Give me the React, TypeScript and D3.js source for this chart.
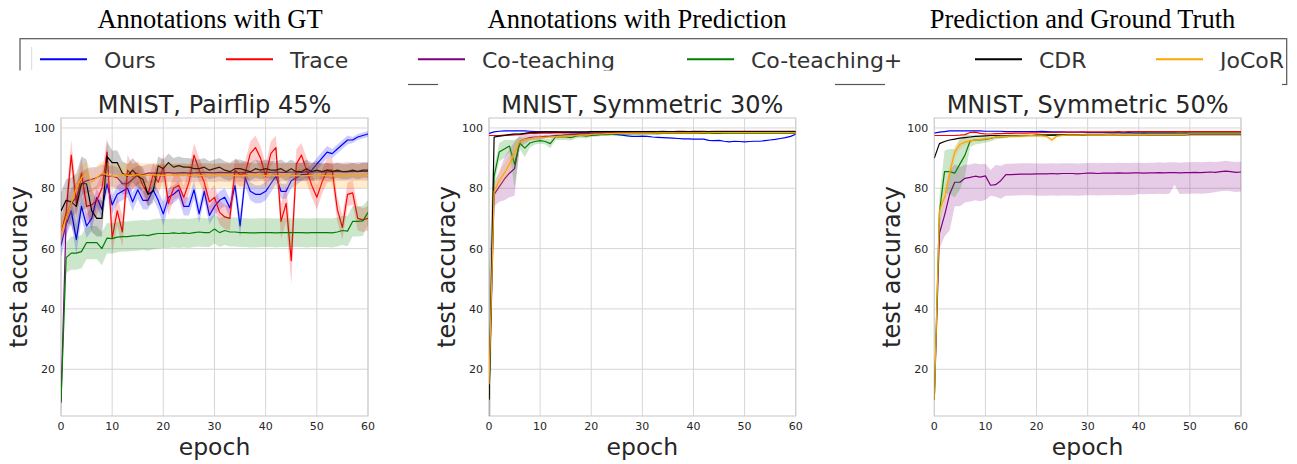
import React from "react";
import * as d3 from "d3";

// ---------- categories / labels ----------
const seriesNames = ["Ours", "Trace", "Co-teaching", "Co-teaching+", "CDR", "JoCoR"];
const seriesColors = ["#0000ff", "#ff0000", "#800080", "#008000", "#000000", "#ffa500"];
const groupTitles = ["Annotations with GT", "Annotations with Prediction", "Prediction and Ground Truth"];
const panelTitles = ["MNIST, Pairflip 45%", "MNIST, Symmetric 30%", "MNIST, Symmetric 50%"];
const xTicks = [0, 10, 20, 30, 40, 50, 60];
const yTicks = [20, 40, 60, 80, 100];
const xLabel = "epoch";
const yLabel = "test accuracy";

// ---------- Panel 1: Pairflip 45% ----------
const p1Ours = [61,68,72.5,63,74,67.5,70,77,73,81.5, 74.5,78,79,80,75.5,79.5,76,76,79.5,76, 71.5,77,78,79.5,74,74,79.5,71.5,79,71, 74,76,77,73.5,81,67.5,83.5,79,78,78, 79,81.5,84,79,79,82.5,83.5,84.5,84.5,86, 88,90,92,91.5,93,94.5,96,96,97,97.5, 98];
const p1OursSd = [4,4,4,5,4,4,4,3,3,3, 3,3,3,3,3,3,3,3,3,3, 4,3,3,3,3,3,3,3,3,3, 3,3,3,3,3,4,3,3,3,3, 3,3,2.5,2.5,2.5,2.5,2.5,2,2,2, 2,2,2,1.5,1.5,1.5,1.5,1,1,1, 1];
const p1Trace = [65,72,91,75,85,74,74.5,76,80,92, 63.5,72.5,65.5,86,84,85,81,78,84.5,82, 87,75,80,81,77,82,91,86,82,75.5, 77,72,70.5,70,86,84.5,85,91.5,93.5,90, 84,91.5,93.5,69,75,56,88,91,86,81, 77,82,86,86,73,67,78,78.5,70,69.5, 70];
const p1TraceSd = [4,5,5,5,5,5,5,5,5,5, 5,5,5,5,4,4,4,4,4,4, 4,4,4,4,4,4,4,4,4,4, 4,4,4,4,4,4,4,4,4,4, 4,4,4,6,6,8,5,4,4,4, 4,4,4,4,4,4,4,4,4,4, 4];
const p1Cot = [9,70,75,77,81.5,82.5,83,83.5,84.5,84, 84,83.5,81.5,81.5,83,84.5,84.5,85,85,85, 85,85.2,85,85.1,85.2,85,85.1,85.2,85.3,85.2, 85.1,85.3,85.2,85.2,85.3,85.2,85.3,85.3,85.2,85.4, 85.3,85.3,85.4,85.3,85.3,85.4,85.4,85.3,85.5,85.4, 85.4,85.5,85.4,85.5,85.5,85.5,85.6,85.5,85.6,85.6, 85.6];
const p1CotSd = [4,5,5,5,4,4,4,3.5,3.5,3.5, 3.5,3.5,3.5,3.5,3.5,3,3,3,3,3, 3,3,3,3,3,3,3,3,3,3, 3,3,3,3,3,3,3,3,3,3, 3,3,3,3,3,3,3,3,3,3, 3,3,3,3,3,3,3,3,3,3, 3];
const p1CotP = [9,57,58.5,58.5,59,62,62,62,60,63.5, 63.3,63.8,64,64,64.2,64.3,64.5,64.3,64.7,65, 65,65,65.2,65,65.2,65,65.3,65.5,65.3,65.3, 66.5,65.3,66,65.5,65.5,65.3,65.3,65.2,65.2,65.3, 65.3,65.3,65.2,65.3,65.3,65.3,65.3,65.3,65.2,65.3, 65.3,65.3,65.3,65.2,65.5,66,65.8,69,69,69.2, 72];
const p1CotPSd = [2,5,5.5,5.5,5.5,5.5,5.5,5.5,5.5,5, 5,5,5,5,5,5,5,5,5,5, 4.8,4.8,4.8,4.8,4.8,4.8,4.8,4.8,4.8,4.8, 4.8,4.8,4.8,4.8,4.8,4.8,4.8,4.8,4.8,4.8, 4.8,4.8,4.8,4.8,4.8,4.8,4.8,4.8,4.8,4.8, 4.8,4.8,4.8,4.8,4.8,4.8,5,5,5,5, 4];
const p1Cdr = [72.5,76,75.5,74,81.5,81.5,72.5,70,70,90.5, 88.5,88.5,85,84,86,84,83,78,79,87.5, 86.5,88.5,87,87.5,87,87,86.5,86.5,87,86, 86.5,87,86,85.5,86.5,86.5,86,85.5,86.5,86, 86.5,86,86,86.5,85.5,86.5,85.5,85.5,86.5,85.5, 86,85.5,86,85.5,86,85.5,85.5,86,85.5,86, 86];
const p1CdrSd = [6,7,8,11,9,8,7,6,6,5, 4,4,4,4,4,4,4,4,4,3, 3,3,3,3,3,3,3,3,3,3, 3,3,3,3,3,3,3,3,3,3, 3,3,3,3,3,3,3,3,3,3, 3,2.5,2.5,2.5,2.5,2.5,2.5,2.5,2.5,2.5, 2.5];
const p1Jocor = [65,70,75,80,83.5,85,82,83.5,85,84.5, 84,84,84.5,84.3,84.3,84.5,84.3,84.3,84.5,84.3, 84.3,84.4,84.3,84.2,84.3,84.4,84.3,84.3,84.2,84.3, 84.3,84.2,84.3,84.3,84.2,84.3,84.2,84.2,84.3,84.2, 84.2,84.3,84.2,84.2,84.1,84.2,84.2,84.1,84.2,84.2, 84.1,84.2,84.2,84.1,84.2,84.1,84.2,84.2,84.1,84.2, 84.2];
const p1JocorSd = [5,4,4,4,4,4,4,4,4,4, 4,4,4,4,4,4,4,4,4,4, 4,4,4,4,4,4,4,4,4,4, 4,4,4,4,4,4,4,4,4,4, 4,4,4,4,4,4,4,4,4,4, 4,4,4,4,4,4,4,4,4,4, 4];

// ---------- Panel 2: Symmetric 30% ----------
const p2Ours = [98.2,98.7,98.9,99,99,99,99,99,98.9,98.8, 98.7,98.7,98.6,98.6,98.5,98.5,98.4,98.4,98.3,98.3, 98.2,98.1,98,98,97.9,97.8,97.6,97.4,97.2,97.2, 97.3,97.2,97,96.9,96.8,96.7,96.6,96.5,96.4,96.4, 96.3,96.3,96.3,95.9,95.8,95.9,95.6,95.4,95.6,95.5, 95.4,95.5,95.6,95.6,95.8,96,96.2,96.5,96.8,97.2, 97.9];
const p2Trace = [97.5,97.5,97.5,97.6,97.6,97.7,97.8,98,98.2,98.2, 98.3,98.3,98.3,98.4,98.4,98.4,98.5,98.5,98.5,98.5, 98.6,98.6,98.6,98.6,98.7,98.7,98.7,98.7,98.7,98.8, 98.8,98.8,98.8,98.8,98.9,98.8,98.8,98.9,98.9,98.8, 98.9,98.9,98.9,98.8,98.9,98.9,98.9,98.9,98.9,98.9, 98.9,98.9,98.9,98.9,98.9,98.9,98.9,98.9,98.9,98.9, 98.9];
const p2Cot = [10,78,80.5,83,85,86.5,95.5,96.3,96.8,97, 97,97.2,97.3,97.5,97.5,97.7,97.8,97.9,98,98, 98.1,98.2,98.2,98.2,98.3,98.3,98.3,98.3,98.4,98.4, 98.4,98.4,98.4,98.4,98.4,98.4,98.4,98.5,98.4,98.4, 98.5,98.4,98.5,98.5,98.4,98.5,98.5,98.5,98.5,98.5, 98.5,98.5,98.5,98.5,98.5,98.5,98.5,98.5,98.5,98.5, 98.5];
const p2CotSd = [0,4,5,7,8,9,2,1.5,1,1, 0.8,0.5,0.5,0.5,0.5,0.5,0.5,0.5,0.5,0.5, 0.3,0.3,0.3,0.3,0.3,0.3,0.3,0.3,0.3,0.3, 0.3,0.3,0.3,0.3,0.3,0.3,0.3,0.3,0.3,0.3, 0.3,0.3,0.3,0.3,0.3,0.3,0.3,0.3,0.3,0.3, 0.3,0.3,0.3,0.3,0.3,0.3,0.3,0.3,0.3,0.3, 0.3];
const p2CotP = [10,84,92,93,94,88,95,93.3,95,95.5, 95.8,95.5,94.8,97,97,97,96.8,97.3,97.5,97.3, 97.5,97.6,97.8,97.8,97.9,98,98,98,98.1,98.1, 98.1,98.1,98.2,98.1,98.2,98.2,98.2,98.2,98.2,98.2, 98.2,98.2,98.2,98.3,98.2,98.2,98.3,98.3,98.3,98.3, 98.3,98.3,98.3,98.3,98.3,98.3,98.3,98.3,98.3,98.3, 98.3];
const p2CotPSd = [0,3,3,3,2,8,2,3,1.5,1, 1,1,1.5,1,1,1,1,0.8,0.8,0.8, 0.5,0.5,0.5,0.5,0.5,0.5,0.5,0.5,0.5,0.5, 0.3,0.3,0.3,0.3,0.3,0.3,0.3,0.3,0.3,0.3, 0.3,0.3,0.3,0.3,0.3,0.3,0.3,0.3,0.3,0.3, 0.3,0.3,0.3,0.3,0.3,0.3,0.3,0.3,0.3,0.3, 0.3];
const p2Cdr = [10,97,97.3,97.5,97.8,98,98,98.2,98.5,98.5, 98.6,98.7,98.7,98.7,98.7,98.7,98.7,98.7,98.7,98.7, 98.8,98.8,98.8,98.8,98.8,98.8,98.8,98.8,98.8,98.8, 98.8,98.8,98.8,98.8,98.8,98.8,98.8,98.8,98.8,98.8, 98.8,98.8,98.8,98.8,98.8,98.8,98.8,98.8,98.8,98.8, 98.8,98.8,98.8,98.8,98.8,98.8,98.8,98.8,98.8,98.8, 98.8];
const p2CdrSd = [42,0.3,0.3,0.3,0.3,0.3,0.3,0.3,0.3,0.3, 0.3,0.3,0.3,0.3,0.3,0.3,0.3,0.3,0.3,0.3, 0.3,0.3,0.3,0.3,0.3,0.3,0.3,0.3,0.3,0.3, 0.3,0.3,0.3,0.3,0.3,0.3,0.3,0.3,0.3,0.3, 0.3,0.3,0.3,0.3,0.3,0.3,0.3,0.3,0.3,0.3, 0.3,0.3,0.3,0.3,0.3,0.3,0.3,0.3,0.3,0.3, 0.3];
const p2Jocor = [15,79,82.5,85,88,92,95.5,96.2,96.5,96.7, 96.8,96.9,97,97.1,97.2,97.3,97.4,97.5,97.6,97.7, 97.9,98,98,98.1,98.1,98.2,98.2,98.2,98.3,98.3, 98.3,98.3,98.3,98.4,98.4,98.4,98.4,98.4,98.4,98.4, 98.4,98.4,98.5,98.4,98.5,98.5,98.5,98.5,98.5,98.5, 98.5,98.5,98.5,98.5,98.5,98.5,98.5,98.5,98.5,98.5, 98.5];
const p2JocorSd = [5,2,3,3,3,3,1,1,0.5,0.5, 0.5,0.5,0.5,0.5,0.5,0.5,0.5,0.5,0.5,0.5, 0.3,0.3,0.3,0.3,0.3,0.3,0.3,0.3,0.3,0.3, 0.3,0.3,0.3,0.3,0.3,0.3,0.3,0.3,0.3,0.3, 0.3,0.3,0.3,0.3,0.3,0.3,0.3,0.3,0.3,0.3, 0.3,0.3,0.3,0.3,0.3,0.3,0.3,0.3,0.3,0.3, 0.3];

// ---------- Panel 3: Symmetric 50% ----------
const p3Ours = [98.3,98.6,98.8,99,99,99,99,99,99,99, 98.9,98.9,98.9,98.9,98.8,98.8,98.8,98.8,98.8,98.8, 98.8,98.9,98.8,98.7,98.7,98.7,98.6,98.6,98.6,98.6, 98.5,98.5,98.5,98.5,98.5,98.5,98.5,98.4,98.5,98.4, 98.4,98.4,98.4,98.4,98.4,98.4,98.4,98.4,98.3,98.4, 98.3,98.3,98.3,98.3,98.3,98.3,98.3,98.3,98.3,98.3, 98.3];
const p3Trace = [97.5,97.5,97.5,97.5,97.5,97.6,97.8,98.5,98.6,98.2, 98,98,98.1,98.1,98.2,98.2,98.3,98.3,98.3,98.4, 98.4,98.5,98.5,98.5,98.5,98.6,98.6,98.6,98.6,98.7, 98.7,98.7,98.7,98.7,98.7,98.7,98.8,98.7,98.8,98.8, 98.8,98.8,98.8,98.8,98.8,98.8,98.8,98.8,98.8,98.8, 98.8,98.8,98.8,98.8,98.8,98.8,98.8,98.8,98.8,98.8, 98.8];
const p3Cot = [10,65,71,78,82,82,83.3,83.6,84,83.7, 84.1,81,81.2,82.5,84.5,84.5,84.6,84.7,84.7,84.7, 84.8,84.8,84.8,84.9,84.8,84.9,84.9,84.9,84.8,84.9, 85,85,84.9,85,85,85,85.1,85,85,85.1, 85.1,85,85.1,85.1,85.2,85.1,85.2,85.2,85.1,85.2, 85.2,85.3,85.2,85.3,85.4,85.3,85.5,85.7,85.5,85.3, 85.4];
const p3CotDn = [0,5,7,12,8,8,8,8,8,8, 8,3.5,4,6,7,7,7,7,7,7, 7.3,7.3,7.3,7.3,7.3,7.3,7.3,7.3,7.3,7.3, 7.3,7.3,7.3,7.3,7.3,7.3,7.3,7.3,7.3,7.3, 7,7,7,7,7,7,7,4,7,7, 7,7,7,7,7,6.5,6.5,6.5,6.5,6.5, 6.5];
const p3CotUp = [0,4,6,8,6,5,4.5,4.3,4.3,4.3, 4,5,6.5,5,3.6,3.6,3.6,3.6,3.6,3.6, 3.4,3.4,3.4,3.4,3.4,3.4,3.4,3.4,3.4,3.4, 3.4,3.4,3.4,3.4,3.4,3.4,3.4,3.4,3.4,3.4, 3.4,3.4,3.4,3.4,3.4,3.4,3.4,3.4,3.4,3.4, 3.4,3.4,3.4,3.4,3.4,3.4,3.4,3.4,3.4,3.4, 3.4];
const p3CotP = [10,72,85.5,85.5,85,88,91,95.7,96,96, 96.2,96.5,97,97,97.1,97.3,97.3,97.4,97.5,97.5, 97.5,97.6,97.6,97.7,97.7,97.7,97.8,97.8,97.8,97.8, 97.9,97.9,97.9,97.9,98,98,98,98,98,98, 98,98.1,98.1,98.1,98.1,98.1,98.1,98.1,98.2,98.1, 98.2,98.2,98.2,98.2,98.2,98.2,98.2,98.2,98.2,98.2, 98.2];
const p3CotPSd = [0,5,7,7.5,8,8.5,7,2,1.5,1.2, 1,1,0.8,0.5,0.5,0.5,0.5,0.5,0.5,0.5, 0.3,0.3,0.3,0.3,0.3,0.3,0.3,0.3,0.3,0.3, 0.3,0.3,0.3,0.3,0.3,0.3,0.3,0.3,0.3,0.3, 0.3,0.3,0.3,0.3,0.3,0.3,0.3,0.3,0.3,0.3, 0.3,0.3,0.3,0.3,0.3,0.3,0.3,0.3,0.3,0.3, 0.3];
const p3Cdr = [90,94.8,95.5,96,96.3,96.6,96.8,97,97.2,97.3, 97.4,97.5,97.5,97.5,97.5,97.5,97.5,97.5,97.5,97.5, 97.6,97.6,97.6,97.6,97.6,97.6,97.6,97.6,97.6,97.6, 97.7,97.7,97.7,97.7,97.7,97.7,97.7,97.7,97.7,97.7, 97.7,97.7,97.7,97.7,97.7,97.7,97.7,97.7,97.7,97.7, 97.8,97.8,97.8,97.8,97.8,97.8,97.8,97.8,97.8,97.8, 97.8];
const p3Jocor = [10,72.5,77,85,92,94.5,95.3,95.7,96,96.2, 96.4,96.6,97,97.2,97.2,97.3,97.3,97.4,97.4,97.5, 97.4,97.4,97.2,96,97.3,97.5,97.6,97.6,97.6,97.7, 97.7,97.7,97.7,97.7,97.8,97.7,97.8,97.8,97.8,97.8, 97.8,97.8,97.9,97.9,97.9,97.9,97.9,97.9,97.9,97.9, 98,98,98,98,98,98,98,98,98,98, 98];
const p3JocorSd = [0,3,3,3,2,1.5,1,0.8,0.5,0.5, 0.5,0.5,0.5,0.5,0.5,0.5,0.5,0.5,0.5,0.5, 0.5,0.5,0.5,0.8,0.5,0.3,0.3,0.3,0.3,0.3, 0.3,0.3,0.3,0.3,0.3,0.3,0.3,0.3,0.3,0.3, 0.3,0.3,0.3,0.3,0.3,0.3,0.3,0.3,0.3,0.3, 0.3,0.3,0.3,0.3,0.3,0.3,0.3,0.3,0.3,0.3, 0.3];

type Series = { mean: number[]; dn: number[] | null; up: number[] | null };

const panelSeries: Series[][] = [
  [
    { mean: p1Ours, dn: p1OursSd, up: p1OursSd },
    { mean: p1Trace, dn: p1TraceSd, up: p1TraceSd },
    { mean: p1Cot, dn: p1CotSd, up: p1CotSd },
    { mean: p1CotP, dn: p1CotPSd, up: p1CotPSd },
    { mean: p1Cdr, dn: p1CdrSd, up: p1CdrSd },
    { mean: p1Jocor, dn: p1JocorSd, up: p1JocorSd },
  ],
  [
    { mean: p2Ours, dn: null, up: null },
    { mean: p2Trace, dn: null, up: null },
    { mean: p2Cot, dn: p2CotSd, up: p2CotSd },
    { mean: p2CotP, dn: p2CotPSd, up: p2CotPSd },
    { mean: p2Cdr, dn: p2CdrSd, up: p2CdrSd },
    { mean: p2Jocor, dn: p2JocorSd, up: p2JocorSd },
  ],
  [
    { mean: p3Ours, dn: null, up: null },
    { mean: p3Trace, dn: null, up: null },
    { mean: p3Cot, dn: p3CotDn, up: p3CotUp },
    { mean: p3CotP, dn: p3CotPSd, up: p3CotPSd },
    { mean: p3Cdr, dn: null, up: null },
    { mean: p3Jocor, dn: p3JocorSd, up: p3JocorSd },
  ],
];

// ---------- layout ----------
const W = 1297;
const H = 464;
const FONT = "'DejaVu Sans', Verdana, sans-serif";
const SERIF = "'Liberation Serif', 'Times New Roman', serif";
const panelX = [
  { x0: 61, x1: 368 },
  { x0: 489, x1: 795.7 },
  { x0: 934.3, x1: 1241 },
];
const groupTitleX = [210, 637, 1082.5];
const TOP = 118;
const BOTTOM = 416;
const Y_DOMAIN: [number, number] = [4.5, 103.3];
const legendLineX = [40, 226, 418, 687, 975, 1156];
const coverRects = [
  [0, 408],
  [438, 835],
  [885, 1282],
];

function Panel({ idx }: { idx: number }) {
  const { x0, x1 } = panelX[idx];
  const x = d3.scaleLinear().domain([0, 60]).range([x0, x1]);
  const y = d3.scaleLinear().domain(Y_DOMAIN).range([BOTTOM, TOP]);
  const clipId = `clip-${idx}`;
  const cx = (x0 + x1) / 2;
  const cy = (TOP + BOTTOM) / 2;
  const series = panelSeries[idx];

  return (
    <g>
      <defs>
        <clipPath id={clipId}>
          <rect x={x0} y={TOP} width={x1 - x0} height={BOTTOM - TOP} />
        </clipPath>
      </defs>
      {xTicks.map((t) => (
        <line key={"gx" + t} x1={x(t)} x2={x(t)} y1={TOP} y2={BOTTOM} stroke="#d6d6d6" strokeWidth={1} />
      ))}
      {yTicks.map((t) => (
        <line key={"gy" + t} x1={x0} x2={x1} y1={y(t)} y2={y(t)} stroke="#d6d6d6" strokeWidth={1} />
      ))}
      <rect x={x0} y={TOP} width={x1 - x0} height={BOTTOM - TOP} fill="none" stroke="#cfcfcf" strokeWidth={1.2} />
      <g clipPath={`url(#${clipId})`}>
        {series.map((s, si) => {
          const color = seriesColors[si];
          const linePath = d3
            .line<number>()
            .x((_, i) => x(i))
            .y((d) => y(d))(s.mean) as string;
          let areaPath: string | null = null;
          if (s.dn && s.up) {
            const dn = s.dn;
            const up = s.up;
            areaPath = d3
              .area<number>()
              .x((_, i) => x(i))
              .y0((d, i) => y(d - dn[i]))
              .y1((d, i) => y(d + up[i]))(s.mean) as string;
          }
          return (
            <g key={si}>
              {areaPath && <path d={areaPath} fill={color} fillOpacity={0.2} stroke="none" />}
              <path d={linePath} fill="none" stroke={color} strokeWidth={1.2} strokeLinejoin="round" />
            </g>
          );
        })}
      </g>
      {yTicks.map((t) => (
        <text key={"ty" + t} x={x0 - 6} y={y(t)} dy="0.36em" textAnchor="end" fontSize={11} fill="#262626" fontFamily={FONT}>
          {t}
        </text>
      ))}
      {xTicks.map((t) => (
        <text key={"tx" + t} x={x(t)} y={429.5} textAnchor="middle" fontSize={11} fill="#262626" fontFamily={FONT}>
          {t}
        </text>
      ))}
      <text x={cx} y={113} textAnchor="middle" fontSize={24} fill="#262626" fontFamily={FONT}>
        {panelTitles[idx]}
      </text>
      <text x={cx} y={454.5} textAnchor="middle" fontSize={23.5} fill="#262626" fontFamily={FONT}>
        {xLabel}
      </text>
      <text
        transform={`translate(${x0 - 34},${cy}) rotate(-90)`}
        textAnchor="middle"
        fontSize={24}
        fill="#262626"
        fontFamily={FONT}
      >
        {yLabel}
      </text>
    </g>
  );
}

export default function App() {
  return (
    <svg
      width={W}
      height={H}
      viewBox={`0 0 ${W} ${H}`}
      style={{ position: "absolute", left: 0, top: 0, background: "#fff" }}
    >
      <rect x={0} y={0} width={W} height={H} fill="#fff" />
      {groupTitles.map((g, i) => (
        <text key={g} x={groupTitleX[i]} y={28} textAnchor="middle" fontSize={26.5} fill="#000" fontFamily={SERIF}>
          {g}
        </text>
      ))}
      <rect x={20} y={38.7} width={1266.7} height={45.8} fill="#fff" stroke="#555" strokeWidth={1.2} />
      <line x1={31.7} x2={31.7} y1={47} y2={70} stroke="#d8d8d8" strokeWidth={1} />
      {seriesNames.map((n, i) => (
        <g key={n}>
          <line x1={legendLineX[i]} x2={legendLineX[i] + 47} y1={59.3} y2={59.3} stroke={seriesColors[i]} strokeWidth={2} />
          <text x={legendLineX[i] + 64} y={68} fontSize={22} fill="#333" fontFamily={FONT}>
            {n}
          </text>
        </g>
      ))}
      {coverRects.map(([a, b], i) => (
        <rect key={"c" + i} x={a} y={70.5} width={b - a} height={H - 70.5} fill="#fff" />
      ))}
      {[0, 1, 2].map((i) => (
        <Panel key={i} idx={i} />
      ))}
    </svg>
  );
}
